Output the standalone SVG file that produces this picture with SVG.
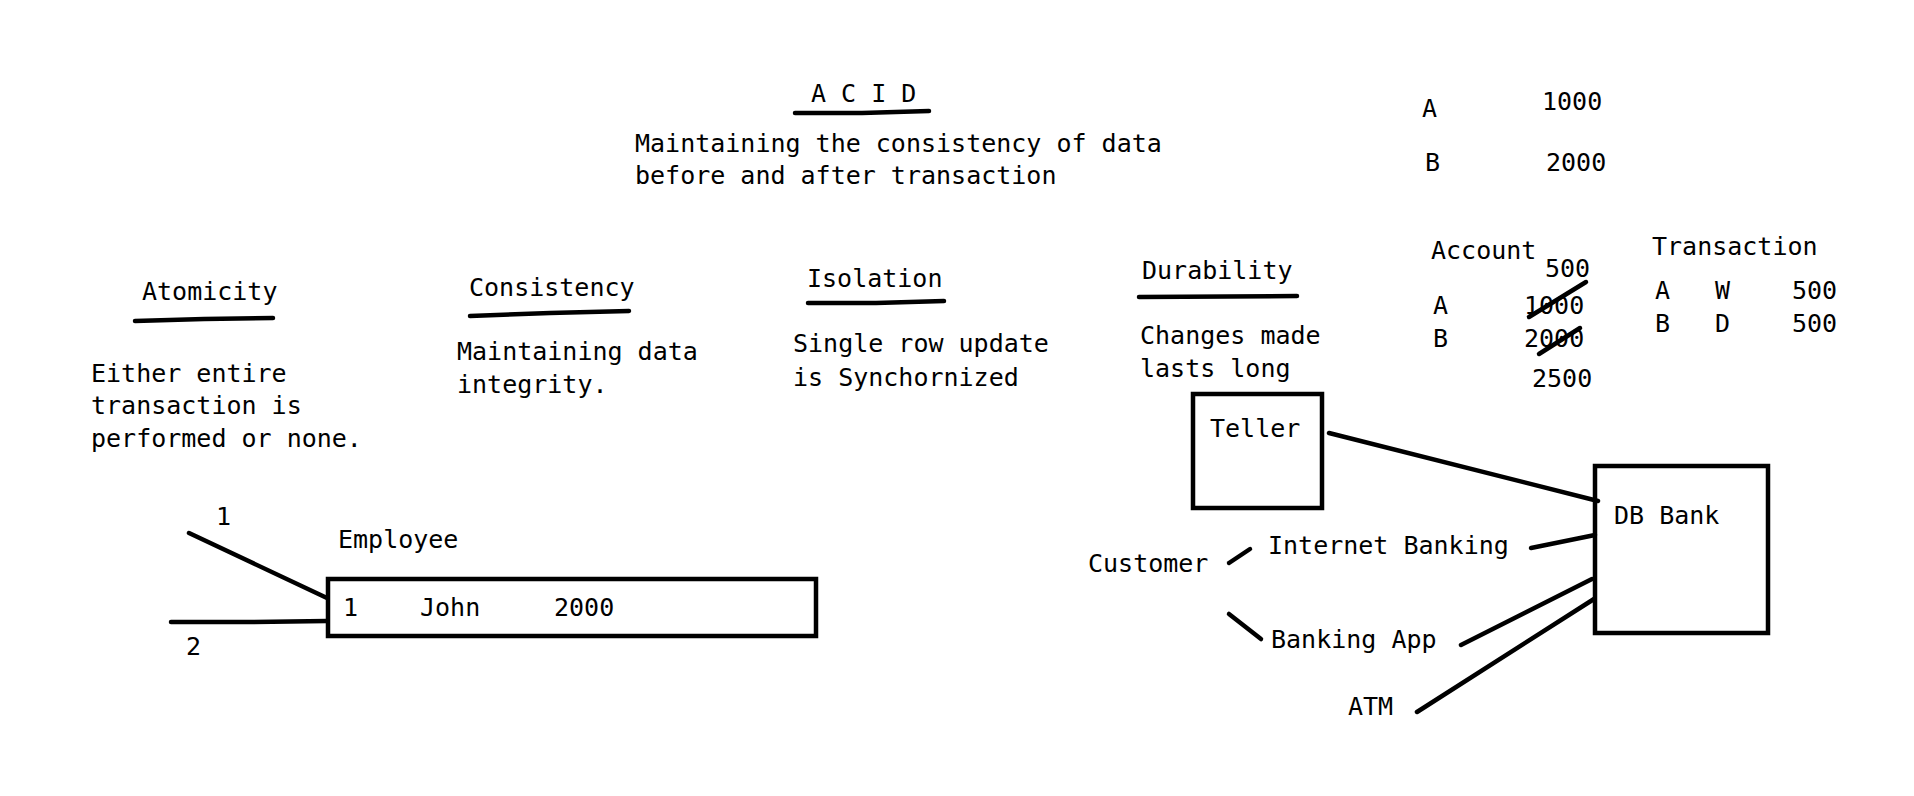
<svg xmlns="http://www.w3.org/2000/svg" width="1914" height="796" viewBox="0 0 1914 796">
<style>
text{font-family:"DejaVu Sans Mono","Liberation Mono",monospace;font-size:25px;fill:#000}
.ln{fill:none;stroke:#000;stroke-width:4.5;stroke-linecap:round;stroke-linejoin:round}
.box{fill:none;stroke:#000;stroke-width:4.5}
</style>
<rect width="1914" height="796" fill="#fff"/>
<g id="title">
<text x="811" y="102">A C I D</text>
<polyline class="ln" points="795,113 862,113 929,111"/>
<text x="635" y="152">Maintaining the consistency of data</text>
<text x="635" y="184">before and after transaction</text>
</g>
<g id="atomicity">
<text x="142" y="300">Atomicity</text>
<polyline class="ln" points="135,321 204,319 273,318"/>
<text x="91" y="382">Either entire</text>
<text x="91" y="414">transaction is</text>
<text x="91" y="447">performed or none.</text>
</g>
<g id="consistency">
<text x="469" y="296">Consistency</text>
<polyline class="ln" points="470,316 550,313 629,311"/>
<text x="457" y="360">Maintaining data</text>
<text x="457" y="393">integrity.</text>
</g>
<g id="isolation">
<text x="807" y="287">Isolation</text>
<polyline class="ln" points="808,303 876,303 944,301"/>
<text x="793" y="352">Single row update</text>
<text x="793" y="386">is Synchornized</text>
</g>
<g id="durability">
<text x="1142" y="279">Durability</text>
<polyline class="ln" points="1139,297 1297,296"/>
<text x="1140" y="344">Changes made</text>
<text x="1140" y="377">lasts long</text>
</g>
<g id="balances">
<text x="1422" y="117">A</text>
<text x="1542" y="110">1000</text>
<text x="1425" y="171">B</text>
<text x="1546" y="171">2000</text>
</g>
<g id="account">
<text x="1431" y="259">Account</text>
<text x="1545" y="277">500</text>
<text x="1433" y="314">A</text>
<text x="1524" y="314">1000</text>
<text x="1433" y="347">B</text>
<text x="1524" y="347">2000</text>
<text x="1532" y="387">2500</text>
<line class="ln" x1="1529" y1="317" x2="1586" y2="282"/>
<line class="ln" x1="1539" y1="354" x2="1580" y2="328"/>
</g>
<g id="transaction">
<text x="1652" y="255">Transaction</text>
<text x="1655" y="299">A</text>
<text x="1715" y="299">W</text>
<text x="1792" y="299">500</text>
<text x="1655" y="332">B</text>
<text x="1715" y="332">D</text>
<text x="1792" y="332">500</text>
</g>
<g id="employee">
<text x="338" y="548">Employee</text>
<rect class="box" x="328" y="579" width="488" height="57"/>
<text x="343" y="616">1</text>
<text x="420" y="616">John</text>
<text x="554" y="616">2000</text>
</g>
<g id="label-1"><text x="216" y="525">1</text></g>
<g id="label-2"><text x="186" y="655">2</text></g>
<g id="teller">
<rect class="box" x="1193" y="394" width="129" height="114"/>
<text x="1210" y="437">Teller</text>
</g>
<g id="db-bank">
<rect class="box" x="1595" y="466" width="173" height="167"/>
<text x="1614" y="524">DB Bank</text>
</g>
<g id="customer"><text x="1088" y="572">Customer</text></g>
<g id="internet-banking"><text x="1268" y="554">Internet Banking</text></g>
<g id="banking-app"><text x="1271" y="648">Banking App</text></g>
<g id="atm"><text x="1348" y="715">ATM</text></g>
<g id="connectors">
<line class="ln" x1="189" y1="533" x2="327" y2="598"/>
<polyline class="ln" points="171,622 250,622 327,621"/>
<line class="ln" x1="1329" y1="433" x2="1598" y2="501"/>
<line class="ln" x1="1531" y1="548" x2="1595" y2="535"/>
<line class="ln" x1="1229" y1="563" x2="1250" y2="549"/>
<line class="ln" x1="1229" y1="614" x2="1261" y2="639"/>
<line class="ln" x1="1461" y1="645" x2="1592" y2="579"/>
<line class="ln" x1="1417" y1="712" x2="1594" y2="599"/>
</g>
</svg>
